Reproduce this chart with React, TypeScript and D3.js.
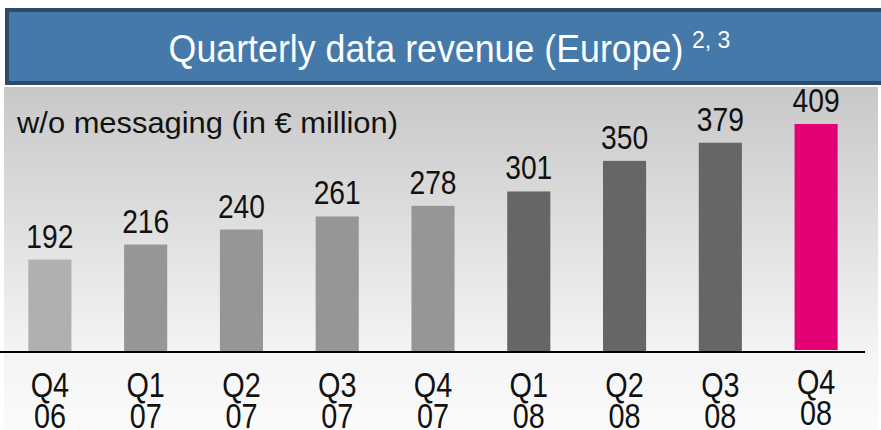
import React from "react";
import * as d3 from "d3";

const quarters = ["Q4", "Q1", "Q2", "Q3", "Q4", "Q1", "Q2", "Q3", "Q4"];
const years = ["06", "07", "07", "07", "07", "08", "08", "08", "08"];
const revenue = [192, 216, 240, 261, 278, 301, 350, 379, 409];
const barColors = ["#b0b0b0", "#969696", "#969696", "#969696", "#969696", "#666666", "#666666", "#666666", "#e20074"];

const W = 881;
const H = 430;
const baseY = 352;
const font = "'Liberation Sans', Arial, sans-serif";

const App = () => {
  const keys = revenue.map((_, i) => String(i));

  const x = d3
    .scaleBand<string>()
    .domain(keys)
    .range([2, 864])
    .paddingInner(0.55)
    .paddingOuter(0.275);

  // the axis does not start at zero in the original
  const y = d3.scaleLinear().domain([44, 409]).range([baseY, 124]);

  return (
    <svg width={W} height={H} style={{ position: "absolute", left: 0, top: 0 }}>
      <defs>
        <linearGradient id="panel" x1="0" y1="0" x2="0" y2="1">
          <stop offset="0%" stopColor="#c8c8c8" />
          <stop offset="77%" stopColor="#f4f4f4" />
          <stop offset="100%" stopColor="#fbfbfb" />
        </linearGradient>
      </defs>
      <rect x={0} y={0} width={W} height={H} fill="#ffffff" />
      <rect x={4} y={87} width={874} height={H - 87} fill="url(#panel)" />

      {/* title bar */}
      <rect x={7} y={10} width={W} height={73} fill="#4479aa" stroke="#2c4b68" strokeWidth={4} />
      <text
        transform="translate(426,62) scale(0.9,1.08)"
        textAnchor="middle"
        fill="#ffffff"
        fontFamily={font}
        fontSize={36}
        textLength={572}
        lengthAdjust="spacingAndGlyphs"
      >
        Quarterly data revenue (Europe)
      </text>
      <text x={692} y={48} fill="#ffffff" fontFamily={font} fontSize={23}>
        2, 3
      </text>

      <text
        x={17}
        y={133}
        fill="#111111"
        fontFamily={font}
        fontSize={30}
        textLength={381}
        lengthAdjust="spacingAndGlyphs"
      >
        w/o messaging (in € million)
      </text>

      {revenue.map((v, i) => {
        const cx = (x(keys[i]) as number) + x.bandwidth() / 2;
        const lift = i === revenue.length - 1 ? 3 : 0;
        return (
          <g key={i}>
            <rect x={x(keys[i])} y={y(v)} width={x.bandwidth()} height={baseY - y(v) - (lift ? 2 : 0)} fill={barColors[i]} />
            <text
              transform={`translate(${cx},${y(v) - 12}) scale(0.83,1)`}
              textAnchor="middle"
              fill="#111111"
              fontFamily={font}
              fontSize={34}
            >
              {v}
            </text>
            <text
              transform={`translate(${cx},${397 - lift}) scale(0.8,1)`}
              textAnchor="middle"
              fill="#111111"
              fontFamily={font}
              fontSize={36}
            >
              {quarters[i]}
            </text>
            <text
              transform={`translate(${cx},${428 - lift}) scale(0.8,1)`}
              textAnchor="middle"
              fill="#111111"
              fontFamily={font}
              fontSize={36}
            >
              {years[i]}
            </text>
          </g>
        );
      })}

      <line x1={0} x2={865} y1={baseY} y2={baseY} stroke="#000000" strokeWidth={2} />
    </svg>
  );
};

export default App;
